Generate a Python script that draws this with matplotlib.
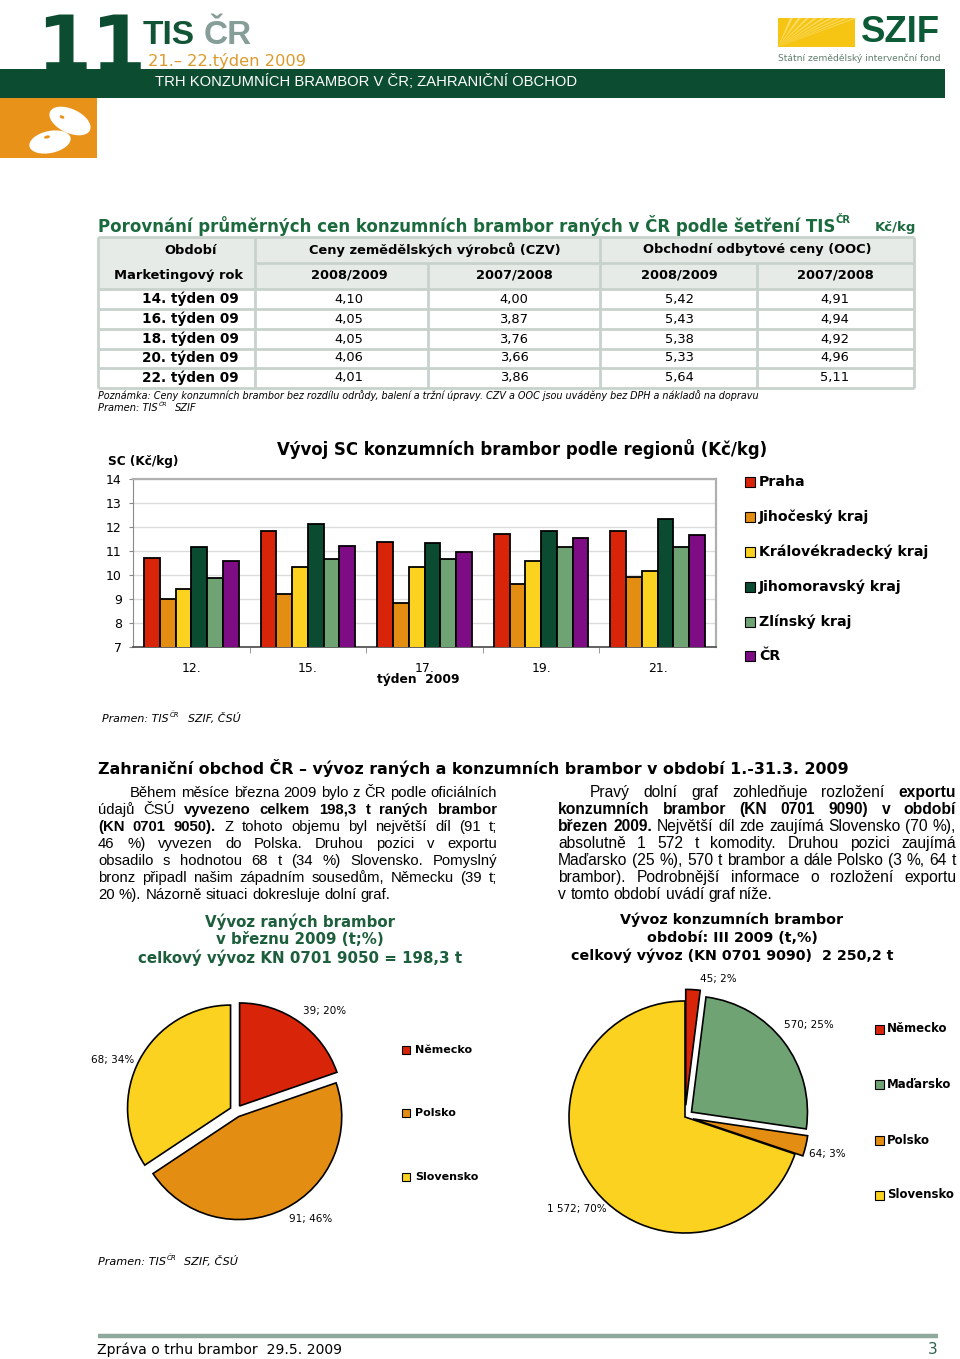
import matplotlib
matplotlib.use('Agg')
import matplotlib.pyplot as plt
from matplotlib.patches import Rectangle, Ellipse, Polygon
import numpy as np

plt.rcParams['font.family'] = ['DejaVu Sans']

# ---------------- DATA ----------------
table_weeks = ['14. týden 09', '16. týden 09', '18. týden 09', '20. týden 09', '22. týden 09']
czv_2008_2009 = [4.10, 4.05, 4.05, 4.06, 4.01]
czv_2007_2008 = [4.00, 3.87, 3.76, 3.66, 3.86]
ooc_2008_2009 = [5.42, 5.43, 5.38, 5.33, 5.64]
ooc_2007_2008 = [4.91, 4.94, 4.92, 4.96, 5.11]

bar_weeks = ['12.', '15.', '17.', '19.', '21.']
regions = ['Praha', 'Jihočeský kraj', 'Královékradecký kraj', 'Jihomoravský kraj', 'Zlínský kraj', 'ČR']
praha = [10.70, 11.85, 11.38, 11.70, 11.82]
jihocesky = [9.02, 9.19, 8.84, 9.62, 9.91]
kralovehradecky = [9.41, 10.32, 10.32, 10.57, 10.15]
jihomoravsky = [11.16, 12.13, 11.32, 11.84, 12.35]
zlinsky = [9.88, 10.65, 10.68, 11.17, 11.17]
cr = [10.57, 11.21, 10.97, 11.53, 11.65]

raw_countries = ['Německo', 'Polsko', 'Slovensko']
raw_tons = [39, 91, 68]
raw_pct = [20, 46, 34]

cons_countries = ['Německo', 'Maďarsko', 'Polsko', 'Slovensko']
cons_tons = [45, 570, 64, 1572]
cons_pct = [2, 25, 3, 70]

# ---------------- STYLE ----------------
C_RED = '#d8250a'
C_ORANGE = '#e38d12'
C_YELLOW = '#fbd21f'
C_DKGREEN = '#0b4b32'
C_LTGREEN = '#6fa374'
C_PURPLE = '#7d0c85'
region_colors = [C_RED, C_ORANGE, C_YELLOW, C_DKGREEN, C_LTGREEN, C_PURPLE]
country_colors = {'Německo': C_RED, 'Polsko': C_ORANGE, 'Slovensko': C_YELLOW, 'Maďarsko': C_LTGREEN}

BAND = '#0c4d31'
TITLE_GREEN = '#1b6a3d'
NARROW = ['Liberation Sans Narrow', 'Liberation Sans', 'DejaVu Sans']
PARA_FONT = ['Liberation Sans', 'DejaVu Sans']

W, H = 960, 1359
fig = plt.figure(figsize=(9.6, 13.59), dpi=100)
bg = fig.add_axes([0, 0, 1, 1])
bg.set_xlim(0, W)
bg.set_ylim(H, 0)
bg.axis('off')
R = fig.canvas.get_renderer()


def width_of(t):
    return t.get_window_extent(R).width


def put(x, y, s, width=None, size=10, ha='left', va='center', **kw):
    t = bg.text(x, y, s, fontsize=size, ha=ha, va=va, **kw)
    if width is not None:
        w = width_of(t)
        if w > 0:
            t.set_fontsize(size * width / w)
    return t


def pramen(x, y, tail, width_main, gap, size=7.5):
    t = put(x, y, 'Pramen: TIS', width=width_main, size=size, style='italic', va='baseline')
    fs = t.get_fontsize()
    w = width_of(t)
    put(x + w + 1, y - 5, 'ČR', size=fs * 0.62, style='italic', va='baseline')
    put(x + w + gap, y, tail, size=fs, style='italic', va='baseline')


# ---------------- HEADER ----------------
bg.add_patch(Rectangle((0, 69), 945, 29, fc=BAND, ec='none', zorder=1))
put(36, 72, '11', size=57, fontweight='bold', color=BAND, va='baseline', zorder=2)
put(143, 44, 'TIS', width=52, size=30, fontweight='bold', color='#115436', va='baseline', family=NARROW)
put(204, 44, 'ČR', width=48, size=30, fontweight='bold', color='#879e98', va='baseline', family=NARROW)
put(148, 66, '21.– 22.týden 2009', width=158, size=12, color='#dc9a2c', va='baseline')
put(155, 82, 'TRH KONZUMNÍCH BRAMBOR V ČR; ZAHRANIČNÍ OBCHOD', width=417, size=11, color='white',
    zorder=3, family=NARROW)

# orange block with potatoes
bg.add_patch(Rectangle((0, 98), 97, 60, fc='#e8921a', ec='none'))
bg.add_patch(Ellipse((70, 121), 44, 24, angle=25, fc='white', ec='none'))
bg.add_patch(Ellipse((50, 142), 42, 22, angle=-12, fc='white', ec='none'))
bg.add_patch(Ellipse((62, 117), 5, 3, angle=25, fc='#e8921a', ec='none'))
bg.add_patch(Ellipse((47, 137), 6, 3, angle=-12, fc='#e8921a', ec='none'))

# SZIF logo
bg.add_patch(Rectangle((778, 18), 77, 29, fc='#f6c514', ec='none'))
for k in range(9):
    xe = 790 + k * 8
    bg.add_patch(Polygon([(778, 47), (xe, 18), (xe + 3, 18)], closed=True, fc='#fbe27a', ec='none', alpha=0.8))
put(861, 33, 'SZIF', width=79, size=26, fontweight='bold', color='#0c5a36', family=NARROW)
put(778, 58, 'Státní zemědělský intervenční fond', width=163, size=7, color='#5f7d6e')

# ---------------- TABLE ----------------
t = put(98, 226, 'Porovnání průměrných cen konzumních brambor raných v ČR podle šetření TIS',
        width=737, size=12, fontweight='bold', color=TITLE_GREEN)
put(836, 220, 'ČR', size=t.get_fontsize() * 0.6, fontweight='bold', color=TITLE_GREEN)
put(916, 228, 'Kč/kg', width=41, size=8, fontweight='bold', color=TITLE_GREEN, ha='right')

border = '#c8d2cc'
bg.add_patch(Rectangle((98, 237), 816, 52, fc='#e6ebe8', ec='none'))
lw = 2.0
hl = [(237, 98, 914), (263, 255, 914), (289, 98, 914), (309, 98, 914), (329, 98, 914),
      (348.5, 98, 914), (368, 98, 914), (388, 98, 914)]
for yy, xa, xb in hl:
    bg.plot([xa, xb], [yy, yy], color=border, lw=lw, solid_capstyle='butt')
vl = [(98, 237, 388), (255, 237, 388), (428, 263, 388), (600, 237, 388), (757, 263, 388), (914, 237, 388)]
for xx, ya, yb in vl:
    bg.plot([xx, xx], [ya, yb], color=border, lw=lw, solid_capstyle='butt')

th = put(435, 250, 'Ceny zemědělských výrobců (CZV)', width=253, size=10, fontweight='bold', ha='center')
hs = th.get_fontsize()
put(757, 250, 'Obchodní odbytové ceny (OOC)', size=hs, fontweight='bold', ha='center')
put(191, 250, 'Období', size=hs, fontweight='bold', ha='center')
put(179, 275, 'Marketingový rok', size=hs, fontweight='bold', ha='center')
year_cols = [349, 514, 679, 835]
for xc, lab in zip(year_cols, ['2008/2009', '2007/2008', '2008/2009', '2007/2008']):
    put(xc, 275, lab, size=hs, fontweight='bold', ha='center')

row_y = [299, 319, 339, 358, 378]
tl = put(190, row_y[0], table_weeks[0], width=97, size=10, fontweight='bold', ha='center')
ls = tl.get_fontsize()
for yy, lab in zip(row_y[1:], table_weeks[1:]):
    put(190, yy, lab, size=ls, fontweight='bold', ha='center')
num_size = ls * 0.95
for series_vals, xc in zip([czv_2008_2009, czv_2007_2008, ooc_2008_2009, ooc_2007_2008], year_cols):
    for yy, v in zip(row_y, series_vals):
        put(xc, yy, f'{v:.2f}'.replace('.', ','), size=num_size, ha='center')

put(98, 396, 'Poznámka: Ceny konzumních brambor bez rozdílu odrůdy, balení a tržní úpravy. '
             'CZV a OOC jsou uváděny bez DPH a nákladů na dopravu', width=667, size=7, style='italic')
pramen(98, 411, 'SZIF', width_main=60, gap=17, size=7)

# ---------------- BAR CHART ----------------
axb = fig.add_axes([133 / W, 1 - 647 / H, (716 - 133) / W, (647 - 479) / H])
xg = np.arange(len(bar_weeks))
bw = 0.135
series = [praha, jihocesky, kralovehradecky, jihomoravsky, zlinsky, cr]
for k, (vals, col) in enumerate(zip(series, region_colors)):
    axb.bar(xg + (k - 2.5) * bw, vals, width=bw, color=col, edgecolor='black', linewidth=1.3, zorder=3)
axb.set_xlim(-0.5, len(bar_weeks) - 0.5)
axb.set_ylim(7, 14)
axb.set_yticks(range(7, 15))
axb.set_xticks(xg)
axb.set_xticklabels(bar_weeks, fontsize=9)
axb.set_xticks(np.arange(0.5, len(bar_weeks) - 0.5, 1), minor=True)
axb.tick_params(axis='x', which='major', length=0, pad=11)
axb.tick_params(axis='x', which='minor', length=4, color='#888888')
axb.tick_params(axis='y', length=3, color='#888888', labelsize=9, pad=5)
axb.grid(axis='y', color='#dcdcdc', lw=1, zorder=0)
for side in ['top', 'right']:
    axb.spines[side].set_color('#b0b0b0')
    axb.spines[side].set_linewidth(1.6)
axb.spines['left'].set_color('#8a8a8a')
axb.spines['bottom'].set_color('#555555')
axb.spines['bottom'].set_linewidth(1.3)

put(522, 449, 'Vývoj SC konzumních brambor podle regionů (Kč/kg)', width=489, size=12, fontweight='bold', ha='center')
put(108, 461, 'SC (Kč/kg)', width=71, size=8, fontweight='bold')
put(418, 680, 'týden  2009', width=82, size=9, fontweight='bold', ha='center')

leg_y = [482, 517, 552, 587, 622, 656]
lg = put(759, leg_y[2], regions[2], width=169, size=9, fontweight='bold')
lsz = lg.get_fontsize()
for yy, lab, col in zip(leg_y, regions, region_colors):
    bg.add_patch(Rectangle((745, yy - 5), 10, 10, fc=col, ec='black', lw=0.8))
    if lab != regions[2]:
        put(759, yy, lab, size=lsz, fontweight='bold')

pramen(102, 722, 'SZIF, ČSÚ', width_main=66, gap=19, size=7.5)

# ---------------- SECTION 2 ----------------
put(98, 768, 'Zahraniční obchod ČR – vývoz raných a konzumních brambor v období 1.-31.3. 2009',
    width=745, size=12, fontweight='bold')


def measure(s, bold, size):
    tt = bg.text(0, 0, s, fontsize=size, fontweight='bold' if bold else 'normal', family=PARA_FONT)
    w = width_of(tt)
    tt.remove()
    return w


def para(lines, x0, x1, indent, y0, dy, base=10):
    sp0 = measure('a a', False, base) - measure('aa', False, base)
    ratios = []
    for i, segs in enumerate(lines[:-1]):
        words = [(w, b) for txt, b in segs for w in txt.split()]
        nat = sum(measure(w, b, base) for w, b in words) + sp0 * (len(words) - 1)
        avail = x1 - (x0 + indent if i == 0 else x0)
        ratios.append(avail / nat)
    size = base * min(ratios)
    sp = sp0 * size / base
    for i, segs in enumerate(lines):
        words = [(w, b) for txt, b in segs for w in txt.split()]
        xs = x0 + (indent if i == 0 else 0)
        widths = [measure(w, b, size) for w, b in words]
        if i < len(lines) - 1 and len(words) > 1:
            gap = (x1 - xs - sum(widths)) / (len(words) - 1)
        else:
            gap = sp
        xx = xs
        yy = y0 + i * dy
        for (w, b), wd in zip(words, widths):
            bg.text(xx, yy, w, fontsize=size, fontweight='bold' if b else 'normal', va='baseline',
                    family=PARA_FONT)
            xx += wd + gap


left_para = [
    [('Během měsíce března 2009 bylo z ČR podle oficiálních', False)],
    [('údajů ČSÚ', False), ('vyvezeno celkem 198,3 t raných brambor', True)],
    [('(KN 0701 9050).', True), ('Z tohoto objemu byl největší díl (91 t;', False)],
    [('46 %) vyvezen do Polska. Druhou pozici v exportu', False)],
    [('obsadilo s hodnotou 68 t (34 %) Slovensko. Pomyslný', False)],
    [('bronz připadl našim západním sousedům, Německu (39 t;', False)],
    [('20 %). Názorně situaci dokresluje dolní graf.', False)],
]
right_para = [
    [('Pravý dolní graf zohledňuje rozložení', False), ('exportu', True)],
    [('konzumních brambor (KN 0701 9090) v období', True)],
    [('březen 2009.', True), ('Největší díl zde zaujímá Slovensko (70 %),', False)],
    [('absolutně 1 572 t komodity. Druhou pozici zaujímá', False)],
    [('Maďarsko (25 %), 570 t brambor a dále Polsko (3 %, 64 t', False)],
    [('brambor). Podrobnější informace o rozložení exportu', False)],
    [('v tomto období uvádí graf níže.', False)],
]
para(left_para, 98, 497, 32, 797, 17)
para(right_para, 558, 956, 32, 797, 17)

# pie titles
lt = ['Vývoz raných brambor', 'v březnu 2009 (t;%)', 'celkový vývoz KN 0701 9050 = 198,3 t']
t3 = put(300, 958, lt[2], width=325, size=10, fontweight='bold', color='#1d5e3c', ha='center')
ps = t3.get_fontsize()
put(300, 922, lt[0], size=ps, fontweight='bold', color='#1d5e3c', ha='center')
put(300, 940, lt[1], size=ps, fontweight='bold', color='#1d5e3c', ha='center')

rt = ['Vývoz konzumních brambor', 'období: III 2009 (t,%)', 'celkový vývoz (KN 0701 9090)  2 250,2 t']
r3 = put(732, 956, rt[2], width=323, size=10, fontweight='bold', ha='center')
rs = r3.get_fontsize()
put(732, 920, rt[0], size=rs, fontweight='bold', ha='center')
put(732, 938, rt[1], size=rs, fontweight='bold', ha='center')


# ---------------- PIES ----------------
def pie_axes(cx, cy, r, lim=1.3):
    s = 2 * lim * r
    ax = fig.add_axes([(cx - s / 2) / W, 1 - (cy + s / 2) / H, s / W, s / H])
    return ax, lim


axL, limL = pie_axes(236, 1111, 103)
axL.pie(raw_tons, colors=[country_colors[c] for c in raw_countries], startangle=90, counterclock=False,
        explode=[0.06] * len(raw_tons), wedgeprops=dict(edgecolor='black', linewidth=1.2))
axL.set_xlim(-limL, limL)
axL.set_ylim(-limL, limL)
axL.set_aspect('equal')
axL.axis('off')

axR, limR = pie_axes(685, 1117, 116)
axR.pie(cons_tons, colors=[country_colors[c] for c in cons_countries], startangle=90, counterclock=False,
        explode=[0.1, 0.07, 0.07, 0.0], wedgeprops=dict(edgecolor='black', linewidth=1.2))
axR.set_xlim(-limR, limR)
axR.set_ylim(-limR, limR)
axR.set_aspect('equal')
axR.axis('off')


def fmt_t(v):
    return f'{v:,}'.replace(',', ' ')


left_lab_pos = [(325, 1011), (311, 1219), (113, 1060)]
for (x, y), v, p in zip(left_lab_pos, raw_tons, raw_pct):
    put(x, y, f'{fmt_t(v)}; {p}%', size=7.5, ha='center')
right_lab_pos = [(718, 979), (809, 1025), (827, 1154), (577, 1209)]
for (x, y), v, p in zip(right_lab_pos, cons_tons, cons_pct):
    put(x, y, f'{fmt_t(v)}; {p}%', size=7.5, ha='center')

for yy, c in zip([1050, 1113, 1177], raw_countries):
    bg.add_patch(Rectangle((402, yy - 4), 8, 8, fc=country_colors[c], ec='black', lw=0.8))
    put(415, yy, c, size=8, fontweight='bold')
for yy, c in zip([1029, 1084, 1140, 1195], cons_countries):
    bg.add_patch(Rectangle((875, yy - 4.5), 9, 9, fc=country_colors[c], ec='black', lw=0.8))
    put(887, yy, c, size=8.5, fontweight='bold')

pramen(98, 1265, 'SZIF, ČSÚ', width_main=68, gap=18, size=7.5)

# ---------------- FOOTER ----------------
bg.plot([98, 938], [1335.5, 1335.5], color='#8fa89c', lw=3.2, solid_capstyle='butt')
put(97, 1350, 'Zpráva o trhu brambor  29.5. 2009', width=246, size=10.5)
put(938, 1350, '3', size=11, ha='right', color='#2f5f50')

fig.savefig('out.png', dpi=100)
